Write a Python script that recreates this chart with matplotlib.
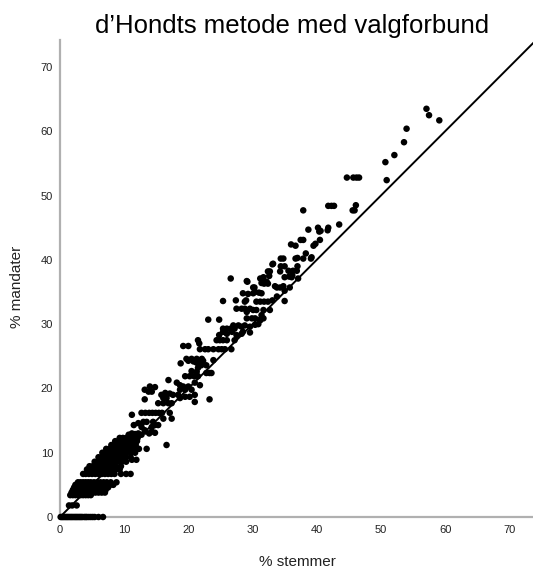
import matplotlib
matplotlib.use("Agg")
import matplotlib.pyplot as plt
import numpy as np

plt.rcParams['font.family'] = ['Liberation Sans', 'DejaVu Sans']

# ---------------- data ----------------
# Parties / lists that got no seats: % votes (seats = 0)
zero_seat_votes = [0.1, 0.3, 0.5, 0.7, 0.9, 1.1, 1.3, 1.5, 1.7, 1.9, 2.1, 2.3,
                   2.5, 2.7, 2.9, 3.1, 3.3, 3.5, 3.8, 4.0, 4.2, 4.5, 4.8, 5.1,
                   5.4, 6.0, 6.7]

# Lower cluster: seat-share levels and the vote shares found on each level
low_seat_levels = [1.8, 3.4, 3.8, 4.2, 4.6, 5.0, 5.4, 6.7, 7.4, 7.9, 8.6, 8.9,
                   9.3, 10.0, 10.6, 11.2, 11.8, 12.3]
low_votes_by_level = [
    [1.4, 1.9, 2.6],
    [1.6, 2.0, 2.4, 2.8, 3.2, 3.6, 4.0, 4.4, 4.8],
    [1.8, 2.2, 2.6, 3.0, 3.4, 3.8, 4.2, 4.6, 5.0, 5.5, 6.0, 6.5, 7.0],
    [2.0, 2.4, 2.8, 3.2, 3.6, 4.0, 4.4, 4.8, 5.2, 5.6, 6.1, 6.6, 7.1],
    [2.2, 2.6, 3.0, 3.4, 3.8, 4.2, 4.6, 5.0, 5.4, 5.9, 6.4, 6.9, 7.5],
    [2.4, 2.8, 3.2, 3.6, 4.0, 4.4, 4.8, 5.2, 5.7, 6.2, 6.7, 7.2, 7.8, 8.3],
    [2.8, 3.2, 3.6, 4.0, 4.4, 4.8, 5.3, 5.8, 6.3, 6.8, 7.3, 7.9, 8.8],
    [3.6, 4.0, 4.5, 5.0, 5.5, 6.0, 6.5, 7.0, 7.5, 8.0, 8.5, 9.5, 10.3, 11.0],
    [4.2, 4.7, 5.2, 5.7, 6.2, 6.7, 7.2, 7.7, 8.2, 8.7, 9.3],
    [4.6, 5.1, 5.6, 6.1, 6.6, 7.1, 7.6, 8.1, 8.6, 9.5],
    [5.4, 5.9, 6.4, 6.9, 7.4, 7.9, 8.4, 9.0, 9.6, 10.3],
    [11.2, 11.9],
    [6.0, 6.5, 7.0, 7.5, 8.0, 8.5, 9.0, 9.6, 10.2, 11.0],
    [6.6, 7.1, 7.6, 8.1, 8.6, 9.1, 9.7, 10.3, 11.0, 11.7],
    [7.2, 7.7, 8.2, 8.7, 9.2, 9.8, 10.4, 11.0, 11.7, 12.3, 13.5],
    [8.0, 8.5, 9.0, 9.5, 10.0, 10.6, 11.2, 11.8, 16.6],
    [8.6, 9.1, 9.6, 10.2, 10.8, 11.4, 12.0],
    [9.3, 9.8, 10.3, 10.9, 11.5, 12.1],
]

# Middle range (% votes, % seats)
mid_votes = [10.7, 11.2, 11.7, 12.2, 12.7, 13.3, 13.9, 13.2, 14.3, 14.8,
             12.7, 13.0, 13.5, 14.5, 14.8, 14.3, 15.3, 11.5, 12.2, 16.1, 17.4,
             11.2, 12.7, 13.3, 13.9, 14.4, 14.9, 15.4, 15.9, 17.1,
             15.3, 16.1, 16.9, 17.4, 13.2, 15.8, 16.1, 16.6, 18.7, 19.5, 20.2,
             21.0, 21.0, 16.4, 17.1, 17.6, 18.4, 13.2, 13.8, 14.3, 14.0, 14.8,
             16.9, 18.2, 18.7, 19.2, 18.7, 19.5, 20.0, 20.5, 21.0, 19.5, 20.2,
             20.9, 21.5, 20.5, 21.3, 18.8, 20.0, 20.8, 21.3, 19.2, 20.0, 23.3,
             21.8, 19.7, 20.5, 21.3, 22.1, 23.9,
             21.2, 21.8, 22.3, 22.8, 21.5, 22.0, 23.3, 22.8, 23.6,
             21.8, 22.6, 23.1, 23.9, 24.7, 25.2, 25.7, 26.7,
             21.5, 21.7, 24.4, 24.9, 25.4, 26.0, 27.2]
mid_seats = [12.8, 13.0, 12.9, 13.0, 12.8, 13.3, 13.0, 13.5, 13.3, 13.1,
             14.0, 14.8, 14.8, 14.8, 14.3, 14.0, 14.3, 14.3, 14.6, 15.3, 15.3,
             15.9, 16.2, 16.2, 16.2, 16.2, 16.2, 16.2, 16.2, 16.2,
             17.7, 17.7, 17.7, 17.7, 18.3, 19.0, 18.5, 18.5, 18.5, 18.7, 18.7,
             19.0, 17.9, 19.3, 19.2, 19.0, 19.0, 19.8, 19.5, 19.5, 20.3, 20.2,
             21.3, 20.9, 20.5, 20.3, 19.8, 19.8, 20.3, 19.8, 20.9, 21.9, 21.9,
             21.9, 21.9, 22.7, 22.6, 23.9, 24.3, 24.2, 24.0, 26.6, 26.6, 18.3,
             20.5, 24.6, 24.6, 24.6, 24.6, 24.4,
             24.1, 24.1, 24.3, 23.6, 23.2, 23.6, 22.4, 22.4, 22.4,
             26.1, 26.1, 26.1, 26.1, 26.1, 26.1, 26.1, 26.1,
             27.5, 27.0, 27.5, 27.5, 27.5, 27.5, 27.5]

# Upper range (% votes, % seats)
high_votes = [24.8, 25.4, 26.0, 26.8, 27.5, 28.3, 28.5, 29.6,
              25.4, 26.0, 26.6, 27.0, 27.2, 27.8, 28.3, 28.8, 29.6, 30.4, 30.9,
              23.1, 24.8, 29.1, 29.9, 30.4, 31.2, 31.4, 31.7,
              27.5, 28.3, 28.8, 29.1, 29.6, 30.1, 30.6, 31.7, 32.7,
              25.4, 27.4, 28.8, 29.0, 30.6, 31.2, 31.8, 32.4, 33.1, 35.0,
              28.5, 29.3, 30.1, 30.4, 31.0, 31.4, 33.8, 35.0,
              30.1, 30.3, 33.5, 33.8, 34.3, 34.8, 35.8,
              29.1, 29.2, 31.4, 31.8, 31.9, 32.2, 32.4,
              26.6, 31.2, 31.7, 32.6, 35.0, 35.7, 36.1, 36.2, 37.1,
              32.4, 32.7, 34.3, 35.6, 36.3, 36.9,
              33.1, 33.2, 34.4, 35.0, 37.0,
              34.4, 34.8, 36.7, 37.0, 37.9, 39.1, 39.2,
              38.3, 36.0, 36.7, 39.5, 39.8, 37.5, 37.9, 40.5,
              38.7, 40.2, 40.4, 40.6, 41.7, 41.8, 43.5,
              37.9, 45.6, 45.9, 41.8, 42.3, 42.7, 46.1,
              44.7, 45.7, 46.2, 46.6, 50.9, 50.7, 52.1, 53.6, 54.0,
              57.1, 57.5, 59.1]
high_seats = [28.3, 28.8, 28.5, 28.8, 28.3, 28.5, 28.8, 28.7,
              29.3, 29.3, 29.3, 29.8, 29.3, 29.8, 29.6, 29.8, 29.6, 29.9, 30.0,
              30.7, 30.7, 30.9, 30.9, 30.9, 30.6, 31.4, 30.9,
              32.4, 32.4, 32.4, 31.9, 32.4, 32.2, 32.2, 32.2, 32.2,
              33.6, 33.7, 33.5, 33.7, 33.5, 33.5, 33.5, 33.5, 33.7, 33.6,
              34.8, 34.7, 34.8, 35.0, 34.9, 34.8, 34.3, 35.2,
              35.7, 35.7, 35.9, 35.7, 35.7, 35.9, 35.7,
              36.7, 36.6, 36.4, 36.3, 36.6, 36.6, 36.3,
              37.1, 37.1, 37.3, 37.5, 37.3, 37.4, 37.3, 37.6, 37.1,
              38.2, 38.2, 38.2, 38.3, 38.3, 38.3,
              39.3, 39.4, 39.0, 39.0, 39.0,
              40.2, 40.2, 40.2, 40.3, 40.2, 40.2, 40.4,
              41.0, 42.4, 42.2, 42.2, 42.5, 43.1, 43.1, 43.1,
              44.7, 45.0, 44.4, 44.5, 44.6, 45.0, 45.5,
              47.7, 47.7, 47.7, 48.4, 48.4, 48.4, 48.5,
              52.8, 52.8, 52.8, 52.8, 52.4, 55.2, 56.3, 58.3, 60.4,
              63.5, 62.5, 61.7]

x_ticks = [0, 10, 20, 30, 40, 50, 60, 70]
y_ticks = [0, 10, 20, 30, 40, 50, 60, 70]

# ---------------- assemble ----------------
low_votes = [v for row in low_votes_by_level for v in row]
low_seats = [s for s, row in zip(low_seat_levels, low_votes_by_level) for _ in row]

votes = np.array(zero_seat_votes + low_votes + mid_votes + high_votes)
seats = np.array([0.0] * len(zero_seat_votes) + low_seats + mid_seats + high_seats)

# ---------------- figure ----------------
W, H = 533, 572
fig = plt.figure(figsize=(W / 100, H / 100), dpi=100)
ax = fig.add_axes([60 / W, 1 - 517 / H, 1 - 60 / W, (517 - 40) / H])

ax.set_xlim(0, 73.7)
ax.set_ylim(0, 74.2)

ax.plot([0, 80], [0, 80], color='black', lw=1.4, zorder=2)
ax.scatter(votes, seats, s=22, color='black', edgecolors='none',
           zorder=3, clip_on=False)

for side in ['top', 'right']:
    ax.spines[side].set_visible(False)
for side in ['left', 'bottom']:
    ax.spines[side].set_color('#b0b0b0')
    ax.spines[side].set_linewidth(1.6)
    ax.spines[side].set_zorder(1)

ax.set_xticks(x_ticks)
ax.set_yticks(y_ticks)
ax.tick_params(axis='both', length=0, labelsize=8, labelcolor='#222222')
ax.tick_params(axis='x', pad=6)
ax.tick_params(axis='y', pad=5)

fig.text(292.5 / W, 1 - 32.5 / H, 'd\u2019Hondts metode med valgforbund',
         ha='center', va='baseline', fontsize=18.5, color='black')
fig.text(297 / W, 1 - 562 / H, '% stemmer', ha='center', va='center',
         fontsize=11, color='#222222')
fig.text(17 / W, 1 - 287 / H, '% mandater', ha='center', va='center',
         rotation=90, fontsize=11, color='#222222')

fig.savefig('out.png', dpi=100)
